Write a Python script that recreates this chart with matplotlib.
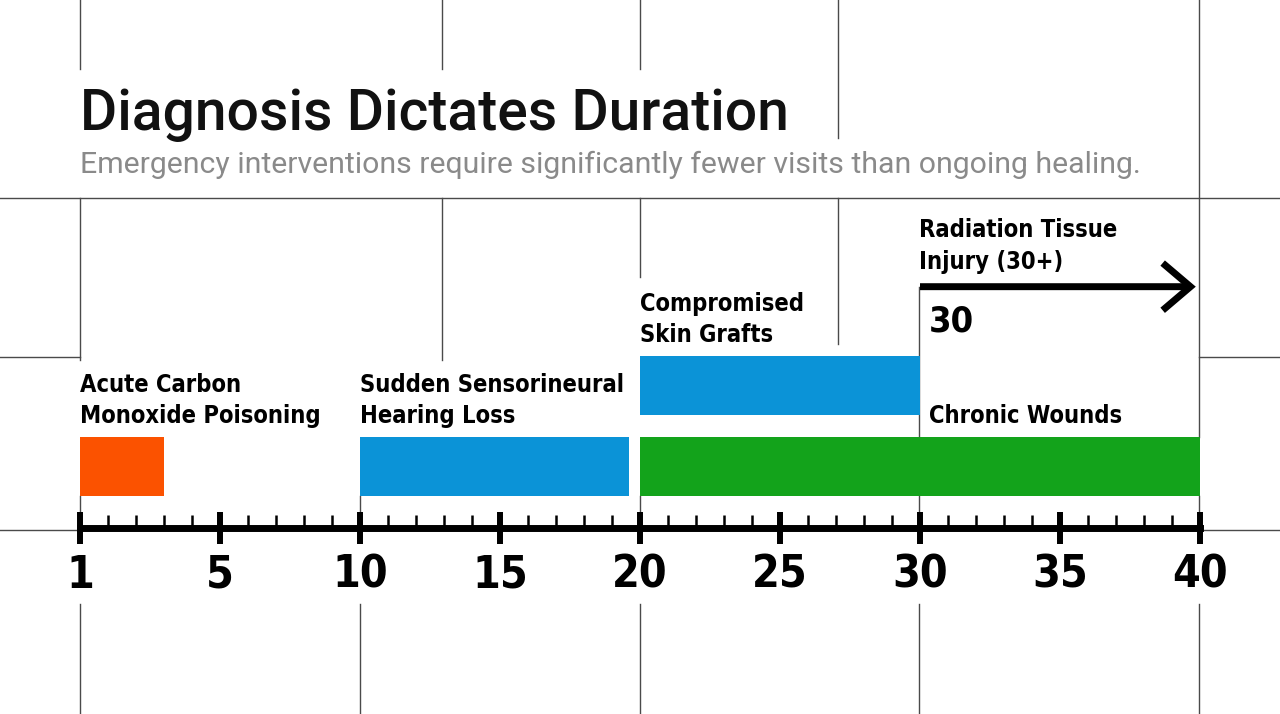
import matplotlib
matplotlib.use("Agg")
import matplotlib.pyplot as plt
from matplotlib.ticker import FixedLocator

# data
diagnoses = ["Acute Carbon\nMonoxide Poisoning", "Sudden Sensorineural\nHearing Loss",
             "Compromised\nSkin Grafts", "Chronic Wounds"]
starts = [0, 10, 20, 20]
ends = [3, 19.6, 30, 40]
rows = [0, 0, 1, 0]
colors = ["#fb5200", "#0b93d7", "#0b93d7", "#13a31b"]
label_x = [0, 10, 20, 30]

open_label = "Radiation Tissue\nInjury (30+)"
open_start = 30
open_end = 40
open_row = 2.22

tick_pos = [0, 5, 10, 15, 20, 25, 30, 35, 40]
tick_labels = ["1", "5", "10", "15", "20", "25", "30", "35", "40"]

title = "Diagnosis Dictates Duration"
subtitle = "Emergency interventions require significantly fewer visits than ongoing healing."

W, H = 1280, 714
narrow = dict(family=["Liberation Sans Narrow", "DejaVu Sans"], fontstretch="condensed",
              fontweight="bold")

fig = plt.figure(figsize=(W / 100, H / 100), dpi=100)
fig.patch.set_facecolor("white")

# background grid (pixel coords)
bg = fig.add_axes([0, 0, 1, 1], zorder=0)
bg.set_xlim(0, W)
bg.set_ylim(H, 0)
bg.axis("off")
vsegs = {80: [(0, 69), (198, 360), (496, 511), (604, 714)],
         442: [(0, 69), (198, 360)],
         640: [(0, 69), (198, 277), (496, 511), (604, 714)],
         838: [(0, 138), (198, 344)],
         919: [(287, 437), (496, 511), (604, 714)],
         360: [(496, 511), (604, 714)],
         1199: [(0, 437), (496, 511), (604, 714)]}
hsegs = {198: [(0, W)], 357: [(0, 80), (1199, W)], 530: [(0, 80), (1199, W)]}
for x, segs in vsegs.items():
    for a, b in segs:
        bg.plot([x, x], [a, b], color="#4a4a4a", lw=1.0)
for y, segs in hsegs.items():
    for a, b in segs:
        bg.plot([a, b], [y, y], color="#4a4a4a", lw=1.0)

# main chart
ax = fig.add_axes([0, 0, 1, 1], zorder=1)
ax.patch.set_visible(False)
ax.set_xlim(-80 / 28, 1200 / 28)
ax.set_ylim((466.5 - 714) / 81, 466.5 / 81)

bar_h = 59 / 81
widths = [e - s for s, e in zip(starts, ends)]
ax.barh(rows, widths, left=starts, height=bar_h, color=colors, zorder=2)

for name, x, r in zip(diagnoses, label_x, rows):
    dx = 6.5 if x == 30 else 0
    ax.annotate(name, (x, r + bar_h / 2), xytext=(dx, 10), textcoords="offset points",
                ha="left", va="baseline", fontsize=17, linespacing=1.38, **narrow)

# open-ended range
ax.annotate("", xy=(open_end - 0.15, open_row), xytext=(open_start, open_row),
            arrowprops=dict(arrowstyle="->,head_length=2.0,head_width=1.7", lw=5,
                            color="black", shrinkA=0, shrinkB=0, capstyle="butt",
                            joinstyle="miter"))
ax.annotate(open_label, (open_start, open_row), xytext=(-1, 13), textcoords="offset points",
            ha="left", va="baseline", fontsize=17, linespacing=1.38, **narrow)
ax.annotate(str(open_start), (open_start, open_row), xytext=(6.5, -32),
            textcoords="offset points", ha="left", va="baseline", fontsize=26, **narrow)

# axis
for s in ["top", "left", "right"]:
    ax.spines[s].set_visible(False)
ax.spines["bottom"].set_position(("data", (466.5 - 528) / 81))
ax.spines["bottom"].set_bounds(0, 40)
ax.spines["bottom"].set_linewidth(5)
ax.set_yticks([])
ax.set_xticks(tick_pos)
ax.set_xticklabels(tick_labels, fontsize=32, **narrow)
ax.xaxis.set_minor_locator(FixedLocator(list(range(0, 41))))
ax.tick_params(axis="x", which="major", direction="inout", length=23, width=4.3, pad=7)
ax.tick_params(axis="x", which="minor", direction="in", length=9.5, width=1.8)

# titles
fig.text(80 / W, 1 - 130 / H, title, fontsize=41, fontweight="medium", color="#111111",
         family=["Roboto", "DejaVu Sans"], ha="left", va="baseline")
fig.text(80 / W, 1 - 173 / H, subtitle, fontsize=21.8, color="#8a8a8a",
         family=["Roboto", "DejaVu Sans"], ha="left", va="baseline")

fig.savefig("out.png", dpi=100, facecolor="white")
